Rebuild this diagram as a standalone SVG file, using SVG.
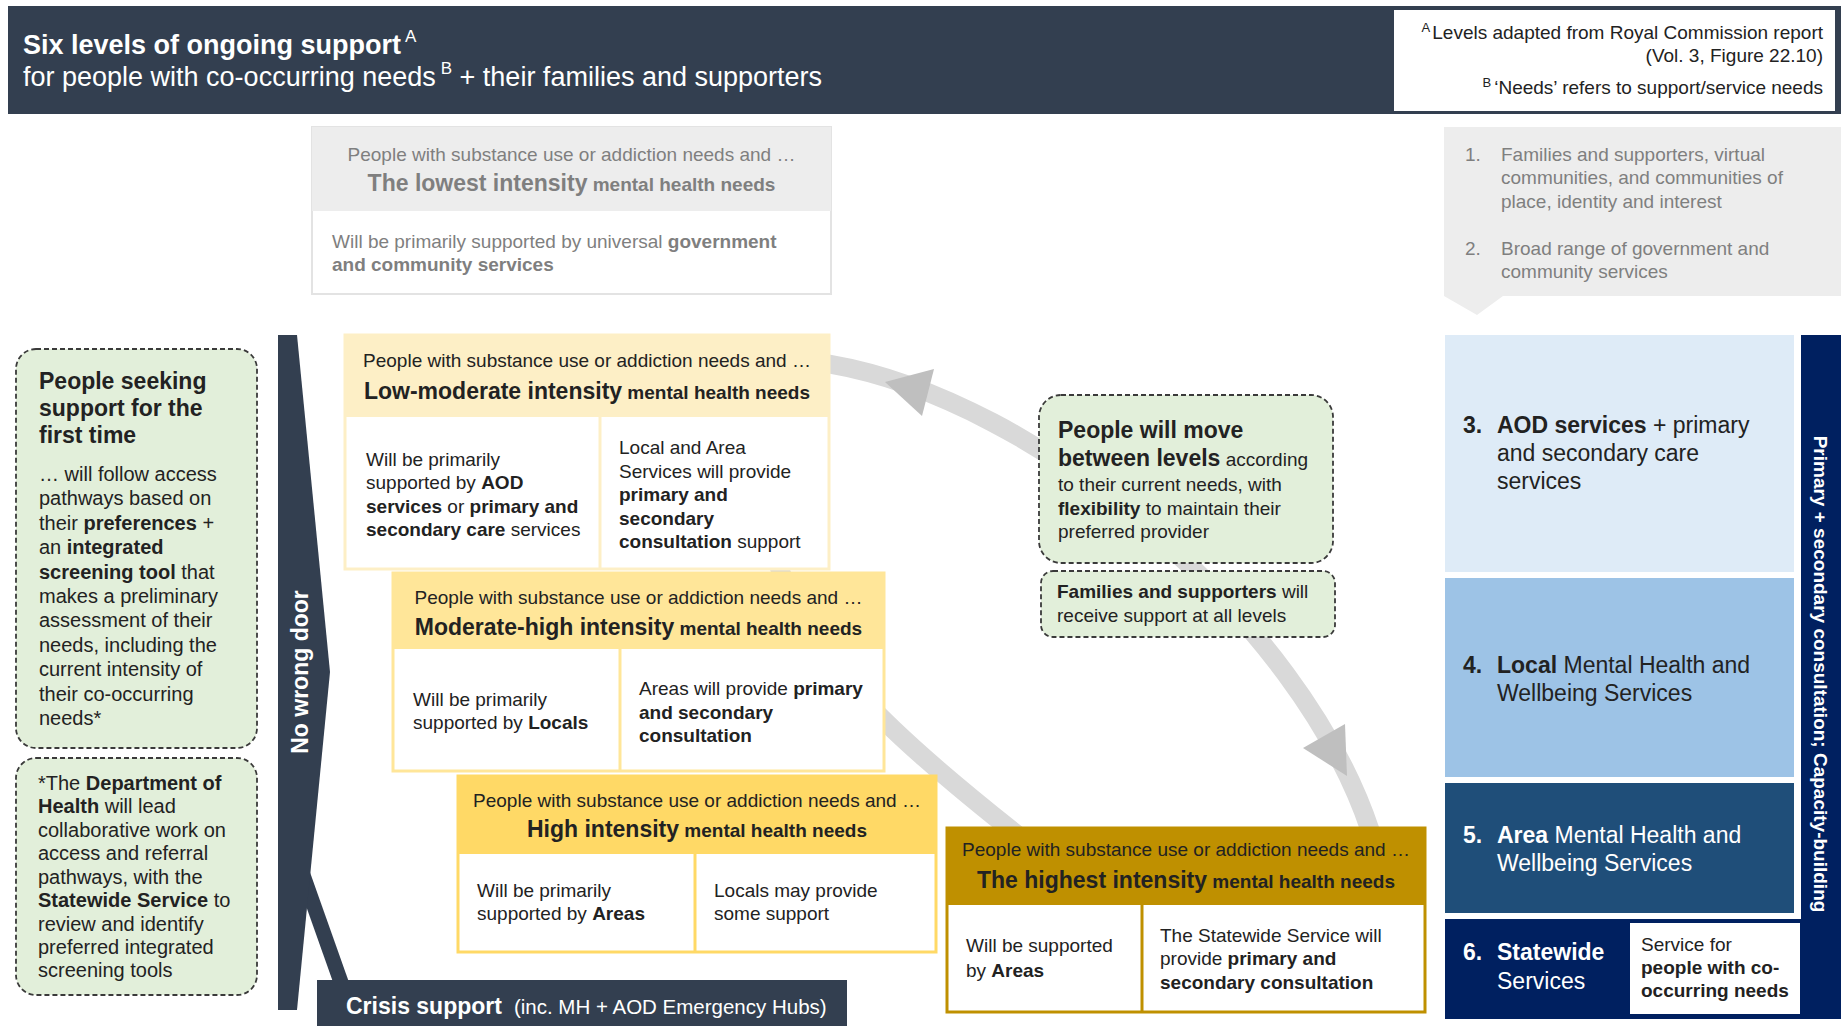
<svg xmlns="http://www.w3.org/2000/svg" width="1841" height="1026" viewBox="0 0 1841 1026">
<style>
text{font-family:'Liberation Sans',Arial,sans-serif;fill:#222;}
.b{font-weight:bold;}
.w{fill:#fff;}
.g{fill:#7f7f7f;}
.s19{font-size:19px;}
.s20{font-size:20px;}
.s23{font-size:23px;}
.c{text-anchor:middle;}
.dash{fill:#e2efda;stroke:#3a3a3a;stroke-width:1.8;stroke-dasharray:5 3;}
.arc{fill:none;stroke:#d9d9d9;stroke-width:19;}
.ah{fill:#bfbfbf;}
</style>

<g id="connectors">
  <path class="arc" d="M829,364 C1040,400 1300,620 1370,830 C1390,890 1090,896 1030,845 C865,715 805,650 775,555 C755,505 750,351 829,364 Z"/>
  <polygon class="ah" points="885,382 934,369 922,416"/>
  <polygon class="ah" points="1303,748 1345,724 1347,776"/>
</g>

<g id="header">
  <rect x="8" y="6" width="1833" height="108" fill="#333f50"/>
  <text x="23" y="54" class="w b" font-size="27">Six levels of ongoing support<tspan dx="4" dy="-12" font-size="17" font-weight="normal">A</tspan></text>
  <text x="23" y="86" class="w" font-size="27">for people with co-occurring needs<tspan dx="5" dy="-12" font-size="17">B</tspan><tspan dy="12"> + their families and supporters</tspan></text>
</g>

<g id="notes">
  <rect x="1393" y="9" width="443" height="103" fill="#fff" stroke="#333f50" stroke-width="2"/>
  <text x="1823" y="39" class="s19" text-anchor="end"><tspan font-size="13" dy="-7">A</tspan><tspan dy="7" dx="2">Levels adapted from Royal Commission report</tspan></text>
  <text x="1823" y="62" class="s19" text-anchor="end">(Vol. 3, Figure 22.10)</text>
  <text x="1823" y="94" class="s19" text-anchor="end"><tspan font-size="13" dy="-7">B</tspan><tspan dy="7" dx="3">‘Needs’ refers to support/service needs</tspan></text>
</g>

<g id="lowest">
  <rect x="312" y="127" width="519" height="167" fill="#fff" stroke="#e3e3e3" stroke-width="2"/>
  <rect x="312" y="127" width="519" height="84" fill="#ededed"/>
  <text x="571.5" y="161" class="s19 g c">People with substance use or addiction needs and …</text>
  <text x="571.5" y="191" class="g c b"><tspan font-size="23">The lowest intensity</tspan><tspan font-size="19"> mental health needs</tspan></text>
  <text x="332" y="248" class="s19 g">Will be primarily supported by universal <tspan class="b">government</tspan></text>
  <text x="332" y="271" class="s19 g b">and community services</text>
</g>

<g id="levels12">
  <path d="M1444,127 H1841 V296 H1503 L1477,315 L1444,296 Z" fill="#ededed"/>
  <text x="1465" y="161" class="s19 g">1.</text>
  <text x="1501" y="161" class="s19 g">Families and supporters, virtual</text>
  <text x="1501" y="184" class="s19 g">communities, and communities of</text>
  <text x="1501" y="208" class="s19 g">place, identity and interest</text>
  <text x="1465" y="255" class="s19 g">2.</text>
  <text x="1501" y="255" class="s19 g">Broad range of government and</text>
  <text x="1501" y="278" class="s19 g">community services</text>
</g>

<g id="first-time">
  <rect x="16" y="349" width="241" height="399" rx="20" class="dash"/>
  <text x="39" y="389" class="s23 b">People seeking</text>
  <text x="39" y="416" class="s23 b">support for the</text>
  <text x="39" y="443" class="s23 b">first time</text>
  <text x="39" y="481" class="s20">… will follow access</text>
  <text x="39" y="505" class="s20">pathways based on</text>
  <text x="39" y="530" class="s20">their <tspan class="b">preferences</tspan> +</text>
  <text x="39" y="554" class="s20">an <tspan class="b">integrated</tspan></text>
  <text x="39" y="579" class="s20"><tspan class="b">screening tool</tspan> that</text>
  <text x="39" y="603" class="s20">makes a preliminary</text>
  <text x="39" y="627" class="s20">assessment of their</text>
  <text x="39" y="652" class="s20">needs, including the</text>
  <text x="39" y="676" class="s20">current intensity of</text>
  <text x="39" y="701" class="s20">their co-occurring</text>
  <text x="39" y="725" class="s20">needs*</text>
</g>

<g id="dept-health">
  <rect x="16" y="758" width="241" height="237" rx="20" class="dash"/>
  <text x="38" y="790" class="s20">*The <tspan class="b">Department of</tspan></text>
  <text x="38" y="813" class="s20"><tspan class="b">Health</tspan> will lead</text>
  <text x="38" y="837" class="s20">collaborative work on</text>
  <text x="38" y="860" class="s20">access and referral</text>
  <text x="38" y="884" class="s20">pathways, with the</text>
  <text x="38" y="907" class="s20"><tspan class="b">Statewide Service</tspan> to</text>
  <text x="38" y="931" class="s20">review and identify</text>
  <text x="38" y="954" class="s20">preferred integrated</text>
  <text x="38" y="977" class="s20">screening tools</text>
</g>

<g id="no-wrong-door">
  <line x1="303" y1="875" x2="342" y2="985" stroke="#333f50" stroke-width="15"/>
  <polygon points="278,335 297,335 330,672 297,1010 278,1010" fill="#333f50"/>
  <text transform="translate(300,672) rotate(-90)" x="0" y="8" class="w b c" font-size="23">No wrong door</text>
</g>

<g id="crisis">
  <rect x="317" y="980" width="530" height="46" fill="#333f50"/>
  <text x="346" y="1014" class="w"><tspan class="b" font-size="23">Crisis support</tspan><tspan font-size="20.5" dx="12">(inc. MH + AOD Emergency Hubs)</tspan></text>
</g>

<g id="low-moderate">
  <rect x="345" y="335" width="484" height="234" fill="#fff" stroke="#fdefc6" stroke-width="3"/>
  <rect x="345" y="335" width="484" height="82" fill="#fdefc6"/>
  <line x1="600" y1="417" x2="600" y2="569" stroke="#fdefc6" stroke-width="3"/>
  <text x="587" y="367" class="s19 c">People with substance use or addiction needs and …</text>
  <text x="587" y="399" class="c b"><tspan font-size="23">Low-moderate intensity</tspan><tspan font-size="19"> mental health needs</tspan></text>
  <text x="366" y="466" class="s19">Will be primarily</text>
  <text x="366" y="489" class="s19">supported by <tspan class="b">AOD</tspan></text>
  <text x="366" y="513" class="s19"><tspan class="b">services</tspan> or <tspan class="b">primary and</tspan></text>
  <text x="366" y="536" class="s19"><tspan class="b">secondary care</tspan> services</text>
  <text x="619" y="454" class="s19">Local and Area</text>
  <text x="619" y="478" class="s19">Services will provide</text>
  <text x="619" y="501" class="s19 b">primary and</text>
  <text x="619" y="525" class="s19 b">secondary</text>
  <text x="619" y="548" class="s19"><tspan class="b">consultation</tspan> support</text>
</g>

<g id="moderate-high">
  <rect x="393" y="573" width="491" height="198" fill="#fff" stroke="#ffe699" stroke-width="3"/>
  <rect x="393" y="573" width="491" height="76" fill="#ffe699"/>
  <line x1="620" y1="649" x2="620" y2="771" stroke="#ffe699" stroke-width="3"/>
  <text x="638.5" y="604" class="s19 c">People with substance use or addiction needs and …</text>
  <text x="638.5" y="635" class="c b"><tspan font-size="23">Moderate-high intensity</tspan><tspan font-size="19"> mental health needs</tspan></text>
  <text x="413" y="706" class="s19">Will be primarily</text>
  <text x="413" y="729" class="s19">supported by <tspan class="b">Locals</tspan></text>
  <text x="639" y="695" class="s19">Areas will provide <tspan class="b">primary</tspan></text>
  <text x="639" y="719" class="s19 b">and secondary</text>
  <text x="639" y="742" class="s19 b">consultation</text>
</g>

<g id="high">
  <rect x="458" y="776" width="478" height="176" fill="#fff" stroke="#ffd966" stroke-width="3"/>
  <rect x="458" y="776" width="478" height="78" fill="#ffd966"/>
  <line x1="695" y1="854" x2="695" y2="952" stroke="#ffd966" stroke-width="3"/>
  <text x="697" y="807" class="s19 c">People with substance use or addiction needs and …</text>
  <text x="697" y="837" class="c b"><tspan font-size="23">High intensity</tspan><tspan font-size="19"> mental health needs</tspan></text>
  <text x="477" y="897" class="s19">Will be primarily</text>
  <text x="477" y="920" class="s19">supported by <tspan class="b">Areas</tspan></text>
  <text x="714" y="897" class="s19">Locals may provide</text>
  <text x="714" y="920" class="s19">some support</text>
</g>

<g id="highest">
  <rect x="947" y="828" width="478" height="184" fill="#fff" stroke="#bf9000" stroke-width="3"/>
  <rect x="947" y="828" width="478" height="77" fill="#bf9000"/>
  <line x1="1142" y1="905" x2="1142" y2="1012" stroke="#bf9000" stroke-width="3"/>
  <text x="1186" y="856" class="s19 c">People with substance use or addiction needs and …</text>
  <text x="1186" y="888" class="c b"><tspan font-size="23">The highest intensity</tspan><tspan font-size="19"> mental health needs</tspan></text>
  <text x="966" y="952" class="s19">Will be supported</text>
  <text x="966" y="977" class="s19">by <tspan class="b">Areas</tspan></text>
  <text x="1160" y="942" class="s19">The Statewide Service will</text>
  <text x="1160" y="965" class="s19">provide <tspan class="b">primary and</tspan></text>
  <text x="1160" y="989" class="s19 b">secondary consultation</text>
</g>

<g id="move-between">
  <rect x="1039" y="395" width="294" height="168" rx="22" class="dash"/>
  <text x="1058" y="438" class="s23 b">People will move</text>
  <text x="1058" y="466"><tspan class="s23 b">between levels</tspan><tspan class="s19"> according</tspan></text>
  <text x="1058" y="491" class="s19">to their current needs, with</text>
  <text x="1058" y="515" class="s19"><tspan class="b">flexibility</tspan> to maintain their</text>
  <text x="1058" y="538" class="s19">preferred provider</text>
</g>

<g id="families">
  <rect x="1041" y="571" width="294" height="66" rx="12" class="dash"/>
  <text x="1057" y="598" class="s19"><tspan class="b">Families and supporters</tspan> will</text>
  <text x="1057" y="622" class="s19">receive support at all levels</text>
</g>

<g id="level3">
  <rect x="1445" y="335" width="349" height="237" fill="#deebf7"/>
  <text x="1463" y="433" class="s23 b">3.</text>
  <text x="1497" y="433" class="s23"><tspan class="b">AOD services</tspan> + primary</text>
  <text x="1497" y="461" class="s23">and secondary care</text>
  <text x="1497" y="489" class="s23">services</text>
</g>

<g id="level4">
  <rect x="1445" y="578" width="349" height="199" fill="#9dc3e6"/>
  <text x="1463" y="673" class="s23 b">4.</text>
  <text x="1497" y="673" class="s23"><tspan class="b">Local</tspan> Mental Health and</text>
  <text x="1497" y="701" class="s23">Wellbeing Services</text>
</g>

<g id="level5">
  <rect x="1445" y="783" width="349" height="130" fill="#1f4e79"/>
  <text x="1463" y="843" class="s23 b w">5.</text>
  <text x="1497" y="843" class="s23 w"><tspan class="b">Area</tspan> Mental Health and</text>
  <text x="1497" y="871" class="s23 w">Wellbeing Services</text>
</g>

<g id="level6">
  <rect x="1445" y="919" width="358" height="100" fill="#002060"/>
  <rect x="1630" y="923" width="170" height="91" fill="#fff"/>
  <text x="1463" y="960" class="s23 b w">6.</text>
  <text x="1497" y="960" class="s23 b w">Statewide</text>
  <text x="1497" y="989" class="s23 w">Services</text>
  <text x="1641" y="951" class="s19">Service for</text>
  <text x="1641" y="974" class="s19 b">people with co-</text>
  <text x="1641" y="997" class="s19 b">occurring needs</text>
</g>

<g id="capacity-bar">
  <rect x="1801" y="335" width="40" height="684" fill="#002060"/>
  <text transform="translate(1821,674) rotate(90)" x="0" y="7" class="w b c s19">Primary + secondary consultation; Capacity-building</text>
</g>
</svg>
